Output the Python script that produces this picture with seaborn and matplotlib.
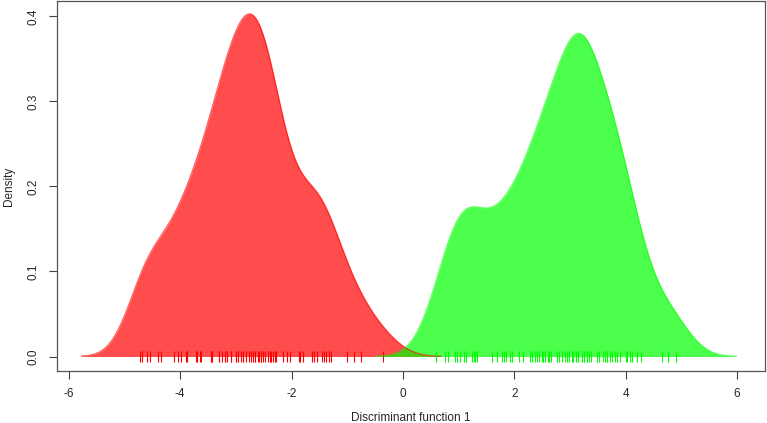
import numpy as np
import pandas as pd
import matplotlib
matplotlib.use("Agg")
import matplotlib.pyplot as plt
import seaborn as sns

group1 = [-4.73, -4.69, -4.60, -4.54, -4.40, -4.35, -4.11, -4.03, -3.99, -3.90,
          -3.87, -3.72, -3.69, -3.65, -3.62, -3.45, -3.45, -3.42, -3.30, -3.30,
          -3.24, -3.20, -3.20, -3.15, -3.09, -3.09, -3.00, -3.00, -2.96, -2.91,
          -2.87, -2.87, -2.82, -2.76, -2.73, -2.69, -2.66, -2.66, -2.61,
          -2.58, -2.54, -2.54, -2.51, -2.48, -2.43, -2.39, -2.36, -2.33,
          -2.30, -2.28, -2.16, -2.08, -2.02, -1.87, -1.84, -1.80, -1.63, -1.59,
          -1.55, -1.45, -1.42, -1.38, -1.33, -1.29, -1.00, -0.88, -0.76, -0.36]
group2 = [0.60, 0.75, 0.81, 0.93, 0.97, 1.03, 1.10, 1.14, 1.24, 1.27,
          1.30, 1.33, 1.60, 1.69, 1.78, 1.82, 1.85, 1.93, 1.96,
          2.08, 2.15, 2.28, 2.32, 2.37, 2.40, 2.45, 2.49, 2.52, 2.55,
          2.60, 2.63, 2.66, 2.76, 2.81, 2.85, 2.91, 2.94, 2.99, 3.03,
          3.06, 3.06, 3.10, 3.10, 3.15, 3.15, 3.21, 3.21, 3.25, 3.25,
          3.30, 3.30, 3.34, 3.37, 3.48, 3.52, 3.60, 3.63, 3.67, 3.67,
          3.72, 3.75, 3.81, 3.84, 3.90, 4.01, 4.03,
          4.08, 4.11, 4.20, 4.27, 4.65, 4.76, 4.91]
x_ticks = [-6, -4, -2, 0, 2, 4, 6]
y_ticks = [0.0, 0.1, 0.2, 0.3, 0.4]

sns.set_style("white")
plt.rcParams['font.family'] = ['Liberation Sans', 'DejaVu Sans']

fig = plt.figure(figsize=(7.67, 4.23), dpi=100)
ax = fig.add_axes([0.0737, 0.123, 0.9243, 0.8746])

for vals, col in [(group1, "#ff0000"), (group2, "#00ff00")]:
    sns.kdeplot(x=vals, ax=ax, fill=True, color=col, alpha=0.7, linewidth=0,
                cut=3, bw_adjust=0.8, gridsize=512)
    sns.kdeplot(x=vals, ax=ax, fill=False, color=col, alpha=0.6, linewidth=1,
                cut=3, bw_adjust=0.8, gridsize=512)
    ax.vlines(vals, -0.007, 0.006, colors=col, linewidth=0.8)

ax.set_xlim(-6.22, 6.51)
ax.set_ylim(-0.017, 0.418)
ax.set_xticks(x_ticks)
ax.set_xticklabels([str(t) for t in x_ticks])
ax.set_yticks(y_ticks)
ax.set_yticklabels([f"{t:.1f}" for t in y_ticks], rotation=90, va="center")
ax.tick_params(axis="both", direction="out", length=6, width=0.8,
               labelsize=8.5, color="#444444", pad=6, bottom=True, left=True)
ax.set_xlabel("Discriminant function 1", fontsize=8.5, labelpad=9)
ax.set_ylabel("Density", fontsize=8.5, labelpad=9)
for s in ax.spines.values():
    s.set_visible(True)
    s.set_color("#555555")
    s.set_linewidth(0.9)

fig.savefig("out.png", dpi=100)
